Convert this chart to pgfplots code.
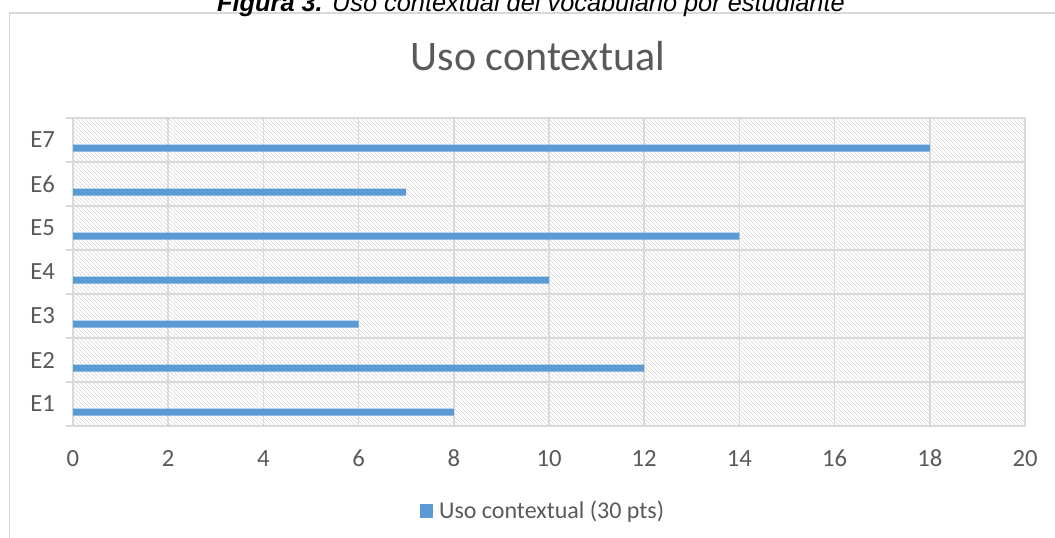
\documentclass[border=0pt]{standalone}
\usepackage{pgfplots}
\pgfplotsset{compat=1.18}
\usepackage{fontspec}
\setmainfont{Carlito}[Numbers=Lining]
\newfontfamily\capfont{Liberation Sans}
\usetikzlibrary{patterns}
\definecolor{barblue}{HTML}{5B9BD5}
\definecolor{txtgray}{HTML}{595959}
\definecolor{gridgray}{HTML}{D9D9D9}

\begin{document}
\begin{tikzpicture}
\useasboundingbox (0,0) rectangle (791.25pt,-403.5pt);
\clip (0,0) rectangle (791.25pt,-403.5pt);
% frame, caption and title, placed in pixel units from the top left
\begin{scope}[x=0.75pt,y=-0.75pt]
  \draw[gridgray, line width=1.2pt] (9.5,545) -- (9.5,13) -- (1060,13);
  \node[anchor=base, inner sep=0pt, font=\capfont\fontsize{19pt}{22pt}\selectfont\itshape]
    at (531,12) {\textbf{Figura 3.} Uso contextual del vocabulario por estudiante};
  \node[anchor=base, inner sep=0pt, text=txtgray, font=\fontsize{31.5pt}{36pt}\selectfont]
    at (538,70.7) {Uso contextual};
\end{scope}
\begin{axis}[
  at={(54.75pt,-319.5pt)}, anchor=south west,
  width=714pt, height=231pt, scale only axis,
  xbar, bar width=5.25pt, bar shift=-6pt,
  xmin=0, xmax=20, ymin=0.5, ymax=7.5,
  xtick={0,2,...,20}, ytick={1,...,7},
  yticklabels={E1,E2,E3,E4,E5,E6,E7},
  minor ytick={0.5,1.5,...,7.5},
  xmajorgrids, yminorgrids,
  grid style={gridgray, line width=1.2pt},
  minor grid style={gridgray, line width=1.2pt},
  axis line style={gridgray, line width=1.2pt},
  tick style={gridgray, line width=1.2pt},
  major tick length=0pt, minor tick length=5.25pt, tick align=outside,
  xtick pos=bottom, ytick pos=left,
  axis background/.style={pattern=north west lines, pattern color=black!16},
  tick label style={text=txtgray, font=\fontsize{18.5pt}{21pt}\selectfont},
  /pgf/number format/assume math mode=true,
  xticklabel style={yshift=-15pt, text height=12pt, text depth=0pt},
  yticklabel style={xshift=-10pt},
  legend style={at={(0.494,-0.276)}, anchor=center, draw=none, fill=none,
    text=txtgray, font=\fontsize{18pt}{21pt}\selectfont},
  legend image code/.code={%
    \fill[barblue] (0pt,-4.9pt) rectangle (9.75pt,4.9pt);
    \path (0pt,0pt) -- (12.5pt,0pt);},
]
\addplot[fill=barblue, draw=none] coordinates {
  (8,1) (12,2) (6,3) (10,4) (14,5) (7,6) (18,7)
};
\addlegendentry{Uso contextual (30 pts)}
\end{axis}
\end{tikzpicture}
\end{document}
